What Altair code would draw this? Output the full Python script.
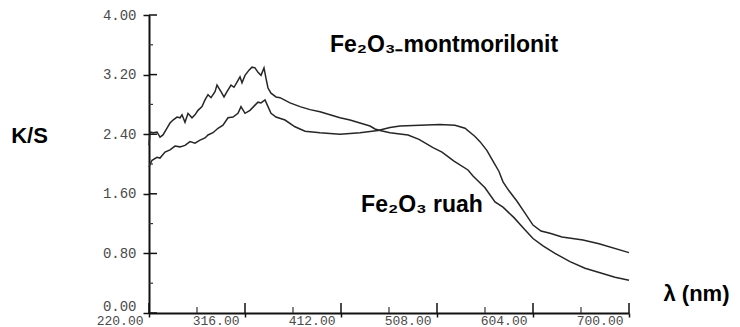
import altair as alt
import pandas as pd

# ---- data ----
lam_a = [220, 221, 224, 228, 231, 234, 238, 241, 244, 248, 251, 253, 256, 259, 263, 266, 269, 273, 276, 279,
         282, 286, 288, 292, 295, 298, 302, 305, 308, 311, 313, 316, 320, 323, 326, 329, 332, 335, 337, 339,
         342, 347, 351, 361, 371, 381, 391, 401, 411, 421, 431, 441, 446, 451, 461, 479, 490, 504, 513, 525,
         539, 544, 556, 566, 574, 585, 595, 604, 614, 626, 641, 656, 671, 686, 700]
val_a = [2.25, 2.43, 2.42, 2.43, 2.36, 2.39, 2.48, 2.55, 2.59, 2.63, 2.62, 2.66, 2.56, 2.68, 2.62, 2.66, 2.72, 2.77, 2.86, 2.93,
         2.89, 2.97, 3.06, 2.97, 2.90, 2.97, 3.06, 3.03, 3.10, 3.17, 3.09, 3.19, 3.26, 3.30, 3.29, 3.23, 3.19, 3.29, 3.15, 3.02,
         2.95, 2.90, 2.89, 2.82, 2.77, 2.73, 2.70, 2.66, 2.62, 2.59, 2.55, 2.51, 2.47, 2.45, 2.42, 2.39, 2.33, 2.22, 2.16, 2.04,
         1.92, 1.84, 1.68, 1.49, 1.42, 1.28, 1.13, 1.00, 0.90, 0.80, 0.69, 0.60, 0.54, 0.48, 0.44]

lam_b = [220, 223, 228, 231, 236, 241, 246, 251, 256, 261, 266, 271, 276, 279, 284, 289, 294, 299, 304, 309,
         312, 316, 321, 326, 329, 332, 336, 339, 342, 347, 356, 366, 376, 391, 411, 431, 449, 461, 471, 491,
         511, 526, 536, 546, 551, 558, 564, 570, 574, 580, 588, 595, 604, 612, 621, 633, 654, 670, 700]
val_b = [1.96, 2.05, 2.09, 2.08, 2.16, 2.19, 2.24, 2.23, 2.25, 2.30, 2.28, 2.32, 2.35, 2.39, 2.42, 2.48, 2.52, 2.62, 2.63, 2.68,
         2.77, 2.68, 2.72, 2.79, 2.83, 2.82, 2.86, 2.77, 2.68, 2.63, 2.59, 2.50, 2.44, 2.42, 2.40, 2.42, 2.45, 2.49, 2.51, 2.52,
         2.53, 2.52, 2.48, 2.37, 2.30, 2.18, 2.04, 1.90, 1.76, 1.64, 1.50, 1.36, 1.18, 1.10, 1.07, 1.02, 0.98, 0.93, 0.81]

series_names = ["Fe₂O₃₋montmorilonit", "Fe₂O₃ ruah"]

ann_text = ["Fe₂O₃₋montmorilonit", "Fe₂O₃ ruah"]
ann_lam = [515, 493]
ann_val = [3.60, 1.45]

x_major = [220, 316, 412, 508, 604, 700]
x_minor = [268, 364, 460, 556, 652]
y_major = [0.0, 0.8, 1.6, 2.4, 3.2, 4.0]
y_minor = [0.4, 1.2, 2.0, 2.8, 3.6]

# ---- tables ----
df_lines = pd.concat([
    pd.DataFrame({"lam": lam_a, "ks": val_a, "series": series_names[0]}),
    pd.DataFrame({"lam": lam_b, "ks": val_b, "series": series_names[1]}),
])
df_ann = pd.DataFrame({"text": ann_text, "lam": ann_lam, "ks": ann_val})
df_xmaj = pd.DataFrame({"lam": x_major})
df_xmin = pd.DataFrame({"lam": x_minor})
df_ymaj = pd.DataFrame({"ks": y_major})
df_ymin = pd.DataFrame({"ks": y_minor})

W, H = 480, 298
xscale = alt.Scale(domain=[220, 700], nice=False, zero=False)
yscale = alt.Scale(domain=[0, 4], nice=False, zero=True)

MONO = "Liberation Mono"
SANS = "Liberation Sans"

x_axis = alt.Axis(values=x_major, format=".2f", grid=False, domain=True, domainColor="#111",
                  domainWidth=2, ticks=True, tickColor="#111", tickWidth=1.5, tickSize=4,
                  labelFont=MONO, labelFontSize=13, labelColor="#4a4a4a", labelAlign="right",
                  labelOffset=-6, labelPadding=-3, labelFlush=False, labelOverlap=False,
                  title="λ (nm)", titleFont=SANS, titleFontSize=22, titleFontWeight="bold",
                  titleColor="#000", titleX=547, titleY=-20, titleAlign="center",
                  titleBaseline="middle", titleAngle=0)
y_axis = alt.Axis(values=y_major, format=".2f", grid=False, domain=True, domainColor="#111",
                  domainWidth=2, ticks=True, tickColor="#111", tickWidth=1.5, tickSize=6,
                  labelFont=MONO, labelFontSize=14, labelColor="#4a4a4a", labelPadding=7,
                  labelFlush=False, labelOverlap=False,
                  labelBaseline={"condition": {"test": "datum.value === 0", "value": "bottom"},
                                 "value": "middle"},
                  title="K/S", titleFont=SANS, titleFontSize=22, titleFontWeight="bold",
                  titleColor="#000", titleX=-120, titleY=120, titleAlign="center",
                  titleBaseline="middle", titleAngle=0)

lines = alt.Chart(df_lines).mark_line(color="#262626", strokeWidth=1.5).encode(
    x=alt.X("lam:Q", scale=xscale, axis=x_axis),
    y=alt.Y("ks:Q", scale=yscale, axis=y_axis),
    detail="series:N",
)

xmaj_in = alt.Chart(df_xmaj).mark_rule(color="#111", strokeWidth=1.5).encode(
    x=alt.X("lam:Q", scale=xscale), y=alt.value(H - 10), y2=alt.value(H))
xmin_in = alt.Chart(df_xmin).mark_rule(color="#333", strokeWidth=1.2).encode(
    x=alt.X("lam:Q", scale=xscale), y=alt.value(H - 6), y2=alt.value(H))
ymaj_in = alt.Chart(df_ymaj).mark_rule(color="#111", strokeWidth=1.5).encode(
    y=alt.Y("ks:Q", scale=yscale), x=alt.value(0), x2=alt.value(8))
ymin_in = alt.Chart(df_ymin).mark_rule(color="#333", strokeWidth=1.2).encode(
    y=alt.Y("ks:Q", scale=yscale), x=alt.value(0), x2=alt.value(4))

ann = alt.Chart(df_ann).mark_text(font=SANS, fontSize=23, fontWeight="bold", color="#000",
                                  align="center", baseline="middle").encode(
    x=alt.X("lam:Q", scale=xscale), y=alt.Y("ks:Q", scale=yscale), text="text:N")

chart = alt.layer(lines, xmaj_in, xmin_in, ymaj_in, ymin_in, ann).properties(
    width=W, height=H,
    autosize=alt.AutoSizeParams(type="none"),
    padding={"left": 149, "top": 15, "right": 111, "bottom": 14},
    background="white",
).configure_view(stroke=None)

chart.save("out.html", embed_options={"renderer": "svg", "actions": False})
